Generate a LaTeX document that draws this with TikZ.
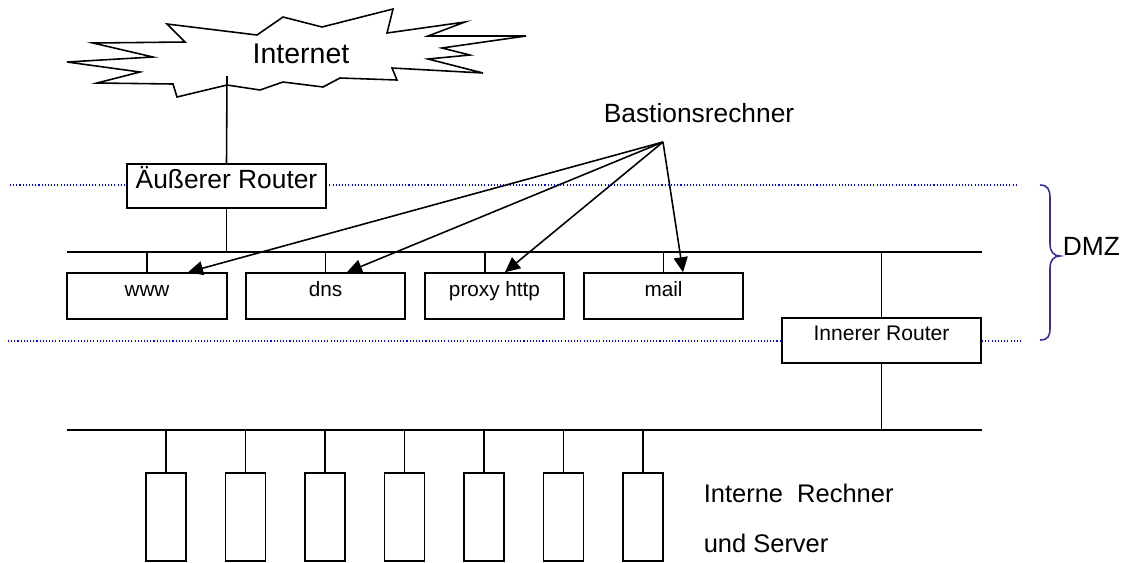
\documentclass[tikz,border=0pt]{standalone}
\usepackage{fontspec}
\setmainfont{Liberation Sans}
\usepackage{tikz}
\usetikzlibrary{arrows.meta,positioning,calc}
\definecolor{grenzblau}{HTML}{0000FF}
\definecolor{klammerblau}{HTML}{333399}

\begin{document}
\begin{tikzpicture}[x=0.02cm,y=-0.02cm,line width=0.9pt,
    kasten/.style  = {draw,rectangle,inner sep=0pt,fill=white,
                      text height=2.5mm,text depth=2.5mm},
    dienst/.style  = {kasten,minimum height=0.92cm,
                      font=\fontsize{11.8}{14}\selectfont},
    router/.style  = {kasten,minimum width=3.98cm},
    rechner/.style = {draw,inner sep=0pt,minimum width=0.8cm,minimum height=1.76cm},
    grenze/.style  = {grenzblau,line width=0.8pt,dash pattern=on 0.6pt off 1.2pt},
    titel/.style   = {inner sep=0pt,font=\fontsize{15}{18}\selectfont},
    pfeil/.style   = {-{Triangle[length=3mm,width=2.8mm]}},
  ]
  \useasboundingbox (0,0) rectangle (1122,562);

  % Grenzen der DMZ
  \draw[grenze] (10,185) -- (1018,185);
  \draw[grenze] (8,341) -- (1022,341);
  \draw[klammerblau] (1040,185) .. controls (1048,185) and (1050,190) .. (1050,198)
    -- (1050,244) .. controls (1050,252) and (1054,256) .. (1060,256)
    .. controls (1054,256) and (1050,260) .. (1050,268)
    -- (1050,328) .. controls (1050,336) and (1048,340) .. (1040,340);
  \node[titel,anchor=base west] (dmz) at (1062,255) {DMZ};

  % Internet-Wolke
  \draw (393,9) -- (322,27) -- (283,17) -- (257,35) -- (167,24) -- (185,42)
    -- (93,43) -- (153,57) -- (67,62) -- (140,72) -- (97,83) -- (173,84)
    -- (177,97) -- (227,85) -- (260,90) -- (283,82) -- (323,87) -- (340,78)
    -- (397,80) -- (392,68) -- (483,73) -- (428,59) -- (470,55) -- (442,48)
    -- (526,36) -- (428,36) -- (465,22) -- (387,33) -- cycle;
  \node[inner sep=0pt,anchor=base,font=\fontsize{16.2}{19}\selectfont]
    (inet) at (301,63) {Internet};
  \coordinate (inetfuss) at (227,76);

  % Netzstraenge
  \coordinate (busA-l) at (67,252);
  \coordinate (busA-r) at (982,252);
  \coordinate (busB-l) at (67,430);
  \coordinate (busB-r) at (982,430);
  \draw (busA-l) -- (busA-r);
  \draw (busB-l) -- (busB-r);

  % Router
  \node[router,minimum height=0.88cm,text height=2.9mm,text depth=2.1mm,
        font=\fontsize{15}{18}\selectfont]
    (aussen) at (226.5,186) {Äußerer Router};
  \node[router,minimum height=0.9cm,font=\fontsize{12}{14}\selectfont]
    (innen) at (881.5,340.5) {Innerer Router};
  \draw (inetfuss) -- (aussen.north);
  \draw (aussen.south) -- (aussen.south |- busA-l);
  \draw (innen.north) -- (innen.north |- busA-l);
  \draw (innen.south) -- (innen.south |- busB-l);

  % Bastionsrechner in der DMZ
  \node[dienst,minimum width=3.2cm]  (www)   at (147,296)   {www};
  \node[dienst,minimum width=3.18cm] (dns)   at (325.5,296) {dns};
  \node[dienst,minimum width=2.78cm] (proxy) at (494.5,296) {proxy http};
  \node[dienst,minimum width=3.18cm] (mail)  at (663.5,296) {mail};
  \coordinate (proxyfuss) at ([xshift=-0.19cm]proxy.north);
  \foreach \srv in {www,dns,mail}
    \draw (\srv.north) -- (\srv.north |- busA-l);
  \draw (proxyfuss) -- (proxyfuss |- busA-l);

  \node[titel,anchor=base west] (bastion) at (603,122) {Bastionsrechner};
  \coordinate (bastfuss) at (663,142);
  \draw[pfeil] (bastfuss) -- ([xshift=0.82cm]www.north);
  \draw[pfeil] (bastfuss) -- ([xshift=0.43cm]dns.north);
  \draw[pfeil] (bastfuss) -- ([xshift=0.21cm]proxy.north);
  \draw[pfeil] (bastfuss) -- ([xshift=0.39cm]mail.north);

  % Interne Rechner
  \foreach \i in {0,...,6}
  {
    \node[rechner] (pc\i) at (166+79.5*\i,517) {};
    \draw (pc\i.north) -- (pc\i.north |- busB-l);
  }
  \node[inner sep=0pt,anchor=base west,font=\fontsize{14.5}{17}\selectfont]
    (intern1) at (703,502) {Interne\ \ Rechner};
  \node[inner sep=0pt,anchor=base west,font=\fontsize{14.5}{17}\selectfont]
    (intern2) at (703,552) {und Server};

\end{tikzpicture}
\end{document}
